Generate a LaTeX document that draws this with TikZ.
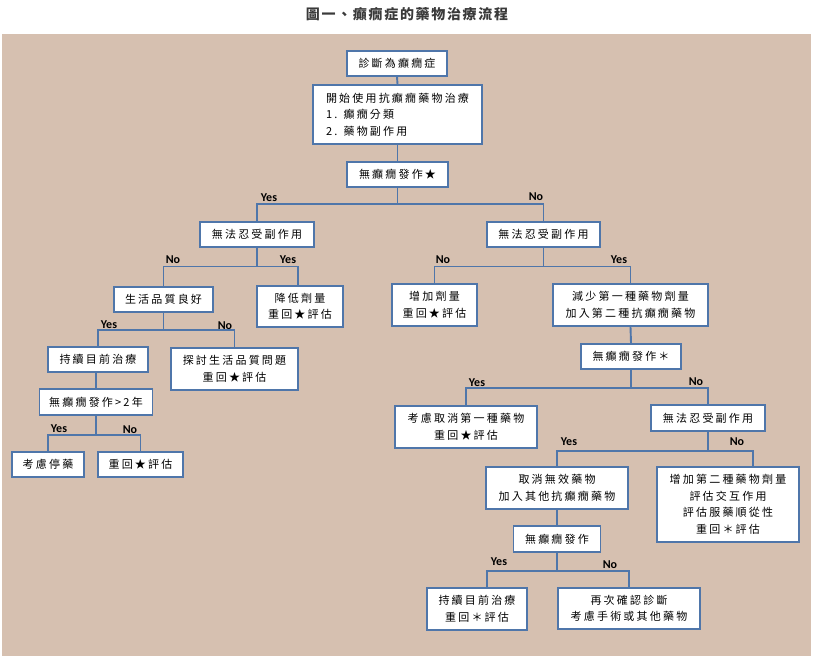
\documentclass[tikz,border=0pt]{standalone}
\usepackage{fontspec}
\setmainfont{Noto Sans CJK TC}
\newfontfamily\cjk{Noto Sans CJK TC}[LetterSpace=20]
\newfontfamily\cjktitle{Noto Sans CJK TC}[LetterSpace=12]
\newfontfamily\ynfont{Carlito}
\definecolor{bgtan}{HTML}{D6C0B0}
\definecolor{ln}{HTML}{4F76AA}
\definecolor{titlegray}{HTML}{3A3A3A}
\begin{document}
\begin{tikzpicture}[x=1pt,y=-1pt,
  box/.style={draw=ln,line width=1.8pt,fill=white,inner sep=0pt,
    font=\cjk\fontsize{11}{16.5}\selectfont,align=center},
  conn/.style={draw=ln,line width=1.9pt},
  yn/.style={font=\ynfont\bfseries\fontsize{12}{13}\selectfont,inner sep=0pt,anchor=base}]
\useasboundingbox (0,0) rectangle (818,656);
\fill[bgtan] (2,34) rectangle (811,656);
\node[font=\cjktitle\bfseries\fontsize{14}{16}\selectfont,text=titlegray] (title) at (407,14) {圖一、癲癇症的藥物治療流程};
% boxes
\node[box,minimum width=100pt,minimum height=25pt] (d1) at (397,63.5) {診斷為癲癇症};
\node[box,minimum width=169pt,minimum height=59pt,align=left] (d2) at (397.5,114.5) {開始使用抗癲癇藥物治療\\1. 癲癇分類\\2. 藥物副作用};
\node[box,minimum width=101pt,minimum height=25pt] (d3) at (397.5,174.5) {無癲癇發作★};
\node[box,minimum width=114pt,minimum height=25pt] (a1) at (257,234.5) {無法忍受副作用};
\node[box,minimum width=99pt,minimum height=25pt] (a2) at (163.5,299.5) {生活品質良好};
\node[box,minimum width=86pt,minimum height=41pt] (a3) at (300,306.5) {降低劑量\\重回★評估};
\node[box,minimum width=100pt,minimum height=25pt] (a4) at (98,359.5) {持續目前治療};
\node[box,minimum width=127pt,minimum height=42pt] (a5) at (234.5,369) {探討生活品質問題\\重回★評估};
\node[box,minimum width=113pt,minimum height=26pt] (a6) at (96,402) {無癲癇發作>2年};
\node[box,minimum width=72pt,minimum height=25pt] (a7) at (48,464.5) {考慮停藥};
\node[box,minimum width=85pt,minimum height=25pt] (a8) at (140.5,464.5) {重回★評估};
\node[box,minimum width=113pt,minimum height=25pt] (b1) at (543.5,234.5) {無法忍受副作用};
\node[box,minimum width=85pt,minimum height=42pt] (b2) at (434.5,305) {增加劑量\\重回★評估};
\node[box,minimum width=155pt,minimum height=42pt] (b3) at (630.5,305) {減少第一種藥物劑量\\加入第二種抗癲癇藥物};
\node[box,minimum width=100pt,minimum height=25pt] (b4) at (631,356.5) {無癲癇發作＊};
\node[box,minimum width=142pt,minimum height=42pt] (b5) at (466,427) {考慮取消第一種藥物\\重回★評估};
\node[box,minimum width=114pt,minimum height=26pt] (b6) at (708,418) {無法忍受副作用};
\node[box,minimum width=142pt,minimum height=42pt] (b7) at (557,488) {取消無效藥物\\加入其他抗癲癇藥物};
\node[box,minimum width=142pt,minimum height=75pt] (b8) at (728,504.5) {增加第二種藥物劑量\\評估交互作用\\評估服藥順從性\\重回＊評估};
\node[box,minimum width=87pt,minimum height=26pt] (b9) at (557,539) {無癲癇發作};
\node[box,minimum width=100pt,minimum height=42pt] (b10) at (477,609) {持續目前治療\\重回＊評估};
\node[box,minimum width=142pt,minimum height=41pt] (b11) at (629,608.5) {再次確認診斷\\考慮手術或其他藥物};
% bar levels
\coordinate (L204) at (0,204);
\coordinate (L266) at (0,266.5);
\coordinate (L330) at (0,330);
\coordinate (L435) at (0,435);
\coordinate (L388) at (0,388);
\coordinate (L451) at (0,451);
\coordinate (L571) at (0,571);
\coordinate (j1) at (d3.south |- L204);
\coordinate (j2) at (a1.south |- L266);
\coordinate (j3) at (a2.south |- L330);
\coordinate (j4) at (a6.south |- L435);
\coordinate (j5) at (b1.south |- L266);
\coordinate (j6) at (b4.south |- L388);
\coordinate (j7) at (b6.south |- L451);
\coordinate (j8) at (b9.south |- L571);
% connectors
\draw[conn] (d1.south) -- (d2.north);
\draw[conn] (d2.south) -- (d3.north);
\draw[conn] (d3.south) -- (j1);
\draw[conn] (j1) -| (a1.north);
\draw[conn] (j1) -| (b1.north);
\draw[conn] (a1.south) -- (j2);
\draw[conn] (j2) -| (a2.north);
\draw[conn] (j2) -| ([xshift=-2pt]a3.north);
\draw[conn] (a2.south) -- (j3);
\draw[conn] (j3) -| (a4.north);
\draw[conn] (j3) -| (a5.north);
\draw[conn] (a4.south -| a6.north) -- (a6.north);
\draw[conn] (a6.south) -- (j4);
\draw[conn] (j4) -| (a7.north);
\draw[conn] (j4) -| (a8.north);
\draw[conn] (b1.south) -- (j5);
\draw[conn] (j5) -| (b2.north);
\draw[conn] (j5) -| (b3.north);
\draw[conn] (b3.south) -- (b4.north);
\draw[conn] (b4.south) -- (j6);
\draw[conn] (j6) -| (b5.north);
\draw[conn] (j6) -| (b6.north);
\draw[conn] (b6.south) -- (j7);
\draw[conn] (j7) -| (b7.north);
\draw[conn] (j7) -| ([xshift=25pt]b8.north);
\draw[conn] (b7.south) -- (b9.north);
\draw[conn] (b9.south) -- (j8);
\draw[conn] (j8) -| ([xshift=10pt]b10.north);
\draw[conn] (j8) -| (b11.north);
% labels
\node[yn] (y1) at (269,201) {Yes};
\node[yn] (n1) at (536,200.5) {No};
\node[yn] (n2) at (173,263.5) {No};
\node[yn] (y2) at (288,263.5) {Yes};
\node[yn] (y3) at (109,328.5) {Yes};
\node[yn] (n3) at (225,329.5) {No};
\node[yn] (y4) at (59,432.5) {Yes};
\node[yn] (n4) at (130,433.5) {No};
\node[yn] (n5) at (443,263.5) {No};
\node[yn] (y5) at (619,263.5) {Yes};
\node[yn] (y6) at (477,386) {Yes};
\node[yn] (n6) at (696,385.5) {No};
\node[yn] (y7) at (569,445.5) {Yes};
\node[yn] (n7) at (737,445.5) {No};
\node[yn] (y8) at (499,565.5) {Yes};
\node[yn] (n8) at (610,568.5) {No};
\end{tikzpicture}
\end{document}
